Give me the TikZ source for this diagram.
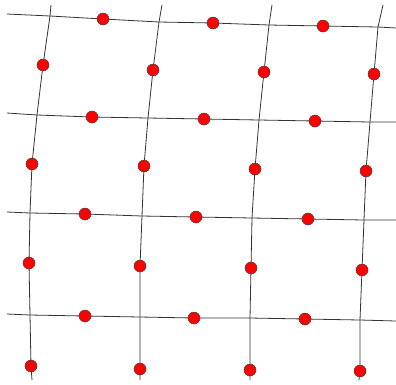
\documentclass[tikz,border=0pt]{standalone}
\usepackage{tikz}
\usetikzlibrary{backgrounds}

\begin{document}
\begin{tikzpicture}[x=1pt, y=-1pt]

\tikzset{
  knot/.style={circle, draw=black!75, fill=red, line width=0.5pt,
               minimum size=12pt, inner sep=0pt},
  gridline/.style={draw=black!80, line width=0.8pt}
}

\useasboundingbox (0,0) rectangle (396,384);

% ends of the lines
\coordinate (L1) at (7,14);   \coordinate (R1) at (396,28);
\coordinate (L2) at (7,113);  \coordinate (R2) at (396,122);
\coordinate (L3) at (7,212);  \coordinate (R3) at (396,220);
\coordinate (L4) at (7,314);  \coordinate (R4) at (396,321);
\coordinate (T1) at (51,5);   \coordinate (B1) at (32,380);
\coordinate (T2) at (162,5);  \coordinate (B2) at (140,380);
\coordinate (T3) at (272,5);  \coordinate (B3) at (250,380);
\coordinate (T4) at (383,5);  \coordinate (B4) at (359,380);

% crossings
\coordinate (x11) at (50,16);  \coordinate (x12) at (159,22);
\coordinate (x13) at (269,25); \coordinate (x14) at (378,27);
\coordinate (x21) at (37,115); \coordinate (x22) at (148,118);
\coordinate (x23) at (259,120);\coordinate (x24) at (370,122);
\coordinate (x31) at (30,213); \coordinate (x32) at (142,216);
\coordinate (x33) at (252,218);\coordinate (x34) at (364,220);
\coordinate (x41) at (30,315); \coordinate (x42) at (140,317);
\coordinate (x43) at (250,318);\coordinate (x44) at (360,320);

% knots on the rows
\node[knot] (h11) at (103,19) {};
\node[knot] (h12) at (213,23) {};
\node[knot] (h13) at (323,26) {};
\node[knot] (h21) at (92,117) {};
\node[knot] (h22) at (204,119) {};
\node[knot] (h23) at (315,121) {};
\node[knot] (h31) at (85,214) {};
\node[knot] (h32) at (196,217) {};
\node[knot] (h33) at (308,219) {};
\node[knot] (h41) at (85,316) {};
\node[knot] (h42) at (194,318) {};
\node[knot] (h43) at (305,319) {};

% knots on the columns
\node[knot] (v11) at (43,65) {};
\node[knot] (v12) at (32,164) {};
\node[knot] (v13) at (29,263) {};
\node[knot] (v14) at (31,366) {};
\node[knot] (v21) at (153,70) {};
\node[knot] (v22) at (144,166) {};
\node[knot] (v23) at (140,266) {};
\node[knot] (v24) at (140,369) {};
\node[knot] (v31) at (264,72) {};
\node[knot] (v32) at (255,169) {};
\node[knot] (v33) at (251,268) {};
\node[knot] (v34) at (250,370) {};
\node[knot] (v41) at (374,74) {};
\node[knot] (v42) at (366,171) {};
\node[knot] (v43) at (362,270) {};
\node[knot] (v44) at (360,371) {};

\begin{pgfonlayer}{background}
% rows
\draw[gridline] (L1) -- (x11) -- (h11.center) -- (x12) -- (h12.center) -- (x13) -- (h13.center) -- (x14) -- (R1);
\draw[gridline] (L2) -- (x21) -- (h21.center) -- (x22) -- (h22.center) -- (x23) -- (h23.center) -- (x24) -- (R2);
\draw[gridline] (L3) -- (x31) -- (h31.center) -- (x32) -- (h32.center) -- (x33) -- (h33.center) -- (x34) -- (R3);
\draw[gridline] (L4) -- (x41) -- (h41.center) -- (x42) -- (h42.center) -- (x43) -- (h43.center) -- (x44) -- (R4);
% columns
\draw[gridline] (T1) -- (x11) -- (v11.center) -- (x21) -- (v12.center) -- (x31) -- (v13.center) -- (x41) -- (v14.center) -- (B1);
\draw[gridline] (T2) -- (x12) -- (v21.center) -- (x22) -- (v22.center) -- (x32) -- (v23.center) -- (x42) -- (v24.center) -- (B2);
\draw[gridline] (T3) -- (x13) -- (v31.center) -- (x23) -- (v32.center) -- (x33) -- (v33.center) -- (x43) -- (v34.center) -- (B3);
\draw[gridline] (T4) -- (x14) -- (v41.center) -- (x24) -- (v42.center) -- (x34) -- (v43.center) -- (x44) -- (v44.center) -- (B4);
\end{pgfonlayer}

\end{tikzpicture}
\end{document}
